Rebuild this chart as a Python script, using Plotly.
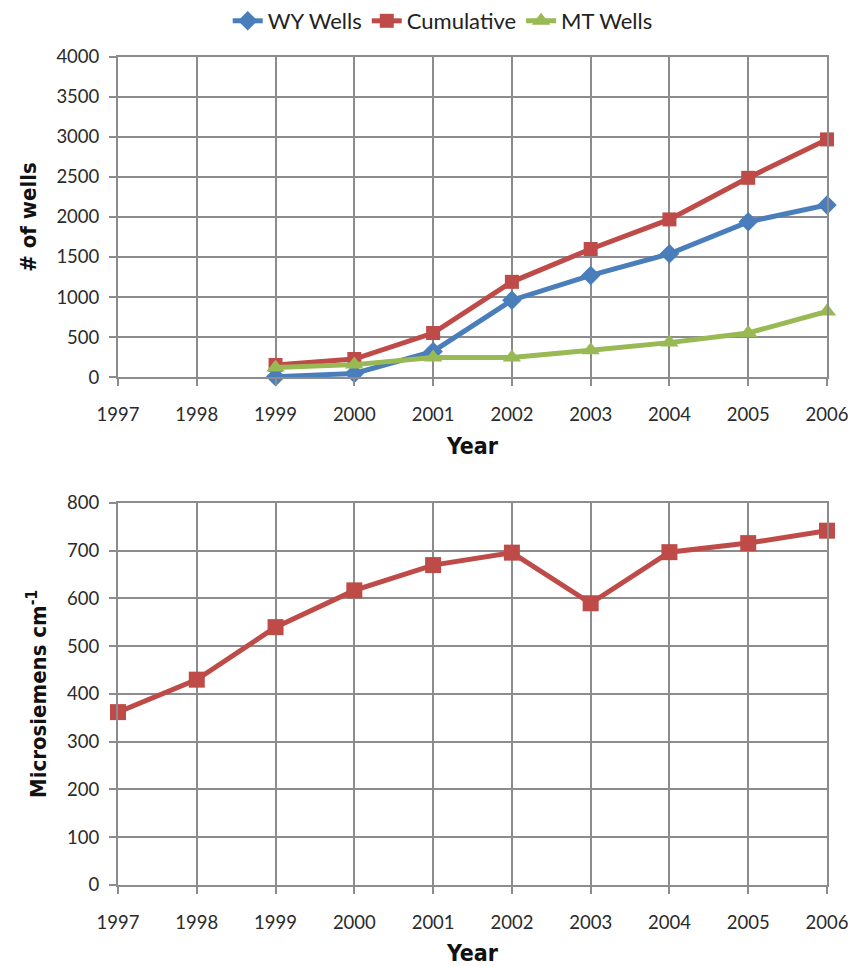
import plotly.graph_objects as go

# Well counts by year (Powder River Basin CBM development)
years_wells = [1999, 2000, 2001, 2002, 2003, 2004, 2005, 2006]
wy_wells = [5, 45, 320, 960, 1270, 1540, 1940, 2150]
cumulative = [150, 225, 550, 1190, 1600, 1970, 2490, 2970]
mt_wells = [120, 155, 245, 245, 335, 430, 550, 820]

# Specific conductance by year
years_ec = [1997, 1998, 1999, 2000, 2001, 2002, 2003, 2004, 2005, 2006]
conductance = [362, 430, 540, 617, 670, 696, 590, 697, 716, 742]

year_ticks = list(range(1997, 2007))

BLUE = "#4a7ebb"
RED = "#be4b48"
GREEN = "#98b954"
GRID = "#8c8c8c"
TEXT_FAMILY = "Lato, Liberation Sans, sans-serif"
TICK_FONT = dict(family=TEXT_FAMILY, size=18.5, color="#2a2a2a")
TITLE_FAMILY = "DejaVu Sans Condensed, DejaVu Sans, sans-serif"


def title_font(size):
    return dict(family=TITLE_FAMILY, size=size, color="#111111", weight="bold")


fig = go.Figure()

fig.add_trace(go.Scatter(
    x=years_wells, y=wy_wells, name="WY Wells", mode="lines+markers",
    line=dict(color=BLUE, width=5), marker=dict(symbol="diamond", size=15, color=BLUE),
    cliponaxis=False, xaxis="x", yaxis="y"))
fig.add_trace(go.Scatter(
    x=years_wells, y=cumulative, name="Cumulative", mode="lines+markers",
    line=dict(color=RED, width=5), marker=dict(symbol="square", size=14, color=RED),
    cliponaxis=False, xaxis="x", yaxis="y"))
fig.add_trace(go.Scatter(
    x=years_wells, y=mt_wells, name="MT Wells", mode="lines+markers",
    line=dict(color=GREEN, width=5), marker=dict(symbol="triangle-up", size=16, color=GREEN),
    cliponaxis=False, xaxis="x", yaxis="y"))

fig.add_trace(go.Scatter(
    x=years_ec, y=conductance, name="Conductance", mode="lines+markers", showlegend=False,
    line=dict(color=RED, width=5), marker=dict(symbol="square", size=16, color=RED),
    cliponaxis=False, xaxis="x2", yaxis="y2"))

axis_common = dict(
    showgrid=True, gridcolor=GRID, gridwidth=2,
    showline=True, linecolor=GRID, linewidth=2, mirror=True,
    ticks="outside", ticklen=7, tickwidth=2, tickcolor=GRID,
    tickfont=TICK_FONT, zeroline=False, automargin=False,
)

# Panels are placed with explicit paper-fraction domains over the full page height
fig.update_layout(
    width=852, height=966,
    margin=dict(l=118, r=25, t=0, b=0),
    paper_bgcolor="white", plot_bgcolor="white",
    showlegend=True,
    legend=dict(orientation="h", x=0.458, xanchor="center", y=1.0, yanchor="top",
                font=dict(family=TEXT_FAMILY, size=22, color="#222"),
                tracegroupgap=0, borderwidth=0, bgcolor="rgba(0,0,0,0)"),
    xaxis=dict(range=[1997, 2006], tickvals=year_ticks, anchor="y",
               ticklabelstandoff=13,
               title=dict(text="Year", font=title_font(23), standoff=14), **axis_common),
    yaxis=dict(range=[0, 4000], dtick=500, domain=[0.6097, 0.9410], anchor="x",
               ticklabelstandoff=6,
               title=dict(text="# of wells", font=title_font(22), standoff=14), **axis_common),
    xaxis2=dict(range=[1997, 2006], tickvals=year_ticks, anchor="y2",
                ticklabelstandoff=13,
                title=dict(text="Year", font=title_font(23), standoff=14), **axis_common),
    yaxis2=dict(range=[0, 800], dtick=100, domain=[0.0839, 0.4793], anchor="x2",
                ticklabelstandoff=6,
                title=dict(text="Microsiemens cm<sup>-1</sup>", font=title_font(22), standoff=14),
                **axis_common),
)

fig.write_html("out.html")
